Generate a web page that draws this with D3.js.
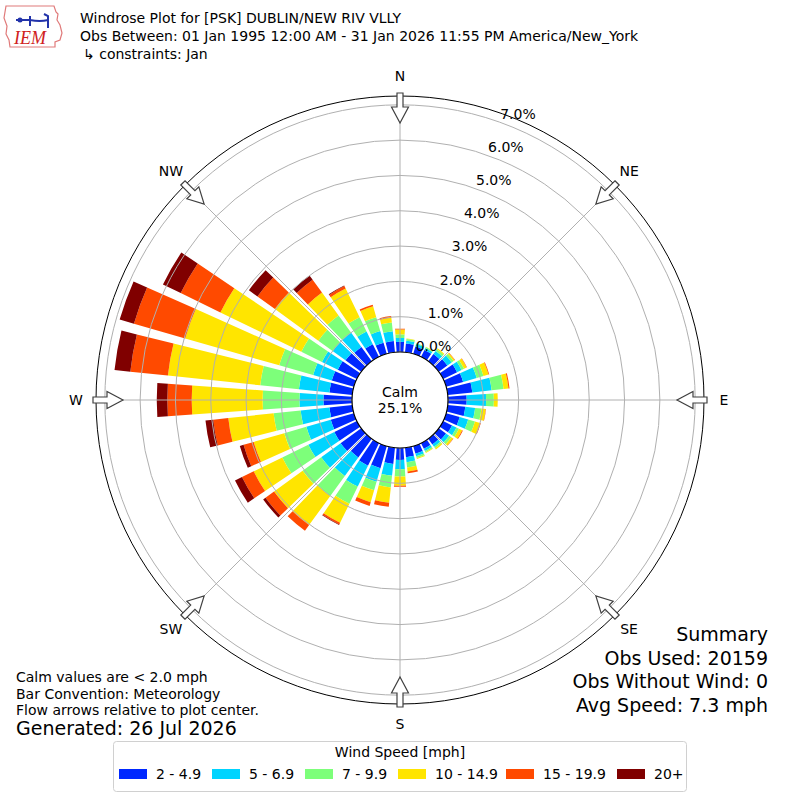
<!DOCTYPE html>
<html>
<head>
<meta charset="utf-8">
<script src="https://cdn.jsdelivr.net/npm/d3@7"></script>
<style>
  body { margin: 0; background: #fff; }
  text { font-family: "DejaVu Sans", sans-serif; fill: #000; }
</style>
</head>
<body>
<svg id="chart" width="800" height="800"></svg>
<script>
// direction bins (deg, meteorological) and percent of obs per speed bin
const directions = [0, 10, 20, 30, 40, 50, 60, 70, 80, 90, 100, 110,
  120, 130, 140, 150, 160, 170, 180, 190, 200, 210, 220, 230,
  240, 250, 260, 270, 280, 290, 300, 310, 320, 330, 340, 350];

const speedBins = ['2 - 4.9', '5 - 6.9', '7 - 9.9', '10 - 14.9', '15 - 19.9', '20+'];
const binColors = ['#0028ff', '#00d4ff', '#7dff7a', '#ffe500', '#ff4a00', '#800000'];

const pct2to5 = [0.29, 0.25, 0.22, 0.22, 0.25, 0.30, 0.44, 0.50, 0.70, 0.53, 0.50, 0.40,
  0.28, 0.25, 0.20, 0.18, 0.22, 0.27, 0.34, 0.46, 0.65, 0.71, 0.65, 0.72,
  0.71, 0.68, 0.65, 0.81, 0.65, 0.65, 0.60, 0.55, 0.50, 0.40, 0.33, 0.32];
const pct5to7 = [0.11, 0.08, 0.07, 0.06, 0.11, 0.15, 0.14, 0.40, 0.55, 0.55, 0.28, 0.25,
  0.14, 0.11, 0.08, 0.07, 0.08, 0.14, 0.26, 0.34, 0.40, 0.66, 0.65, 0.68,
  0.82, 0.72, 0.82, 0.68, 0.87, 0.55, 0.50, 0.45, 0.50, 0.40, 0.34, 0.28];
const pct7to10 = [0.10, 0.05, 0.02, 0.03, 0.06, 0.07, 0.08, 0.20, 0.34, 0.22, 0.18, 0.20,
  0.08, 0.08, 0.05, 0.04, 0.05, 0.15, 0.21, 0.33, 0.25, 0.54, 0.70, 0.65,
  0.82, 0.65, 0.77, 1.04, 1.10, 1.00, 0.65, 0.50, 0.60, 0.45, 0.41, 0.25];
const pct10to15 = [0.14, 0.01, 0.00, 0.01, 0.03, 0.04, 0.08, 0.15, 0.14, 0.11, 0.12, 0.15,
  0.10, 0.06, 0.04, 0.02, 0.03, 0.12, 0.26, 0.44, 0.35, 0.60, 1.02, 1.00,
  0.90, 0.90, 1.29, 2.01, 2.63, 2.77, 2.55, 1.52, 0.80, 0.90, 0.32, 0.13];
const pct15to20 = [0.02, 0.00, 0.00, 0.00, 0.00, 0.01, 0.01, 0.02, 0.03, 0.00, 0.01, 0.02,
  0.02, 0.01, 0.00, 0.00, 0.00, 0.05, 0.03, 0.11, 0.11, 0.05, 0.20, 0.30,
  0.37, 0.30, 0.43, 0.69, 1.07, 1.51, 1.25, 0.61, 0.45, 0.08, 0.05, 0.05];
const pct20up = [0.00, 0.00, 0.00, 0.00, 0.00, 0.00, 0.00, 0.00, 0.00, 0.00, 0.00, 0.00,
  0.00, 0.00, 0.00, 0.00, 0.00, 0.00, 0.00, 0.00, 0.00, 0.02, 0.00, 0.08,
  0.22, 0.11, 0.22, 0.30, 0.45, 0.42, 0.56, 0.30, 0.15, 0.02, 0.00, 0.00];

const ringTicks = [0, 1, 2, 3, 4, 5, 6, 7];
const compassLabels = ['N', 'NE', 'E', 'SE', 'S', 'SW', 'W', 'NW'];
const compassAngles = [0, 45, 90, 135, 180, 225, 270, 315];
const calmPct = 25.1;

const titleLines = [
  'Windrose Plot for [PSK] DUBLIN/NEW RIV VLLY',
  'Obs Between: 01 Jan 1995 12:00 AM - 31 Jan 2026 11:55 PM America/New_York',
  '\u21b3 constraints: Jan'
];
const noteLines = ['Calm values are < 2.0 mph', 'Bar Convention: Meteorology', 'Flow arrows relative to plot center.'];
const summaryLines = ['Summary', 'Obs Used: 20159', 'Obs Without Wind: 0', 'Avg Speed: 7.3 mph'];

const cx = 400, cy = 400;
const svg = d3.select('#chart');

// scales
const r = d3.scaleLinear().domain([0, 7.25]).range([48, 304]);
const ang = d3.scaleLinear().domain([0, 360]).range([0, 2 * Math.PI]);
const binHalf = 4; // deg, bars are 80% of the 10 deg sector

const keys = ['b0', 'b1', 'b2', 'b3', 'b4', 'b5'];
const rows = directions.map((d, i) => ({
  dir: d, b0: pct2to5[i], b1: pct5to7[i], b2: pct7to10[i],
  b3: pct10to15[i], b4: pct15to20[i], b5: pct20up[i]
}));
const series = d3.stack().keys(keys)(rows);

const g = svg.append('g').attr('transform', 'translate(' + cx + ',' + cy + ')');

const arc = d3.arc()
  .innerRadius(d => r(d[0]))
  .outerRadius(d => r(d[1]))
  .startAngle(d => ang(d.data.dir - binHalf))
  .endAngle(d => ang(d.data.dir + binHalf));

g.selectAll('.layer')
  .data(series)
  .enter().append('g')
  .attr('class', 'layer')
  .attr('fill', (s, i) => binColors[i])
  .selectAll('path')
  .data(s => s.filter(d => d[1] - d[0] > 0))
  .enter().append('path')
  .attr('d', arc);

// grid rings
g.selectAll('.ring')
  .data(ringTicks)
  .enter().append('circle')
  .attr('r', d => r(d))
  .attr('fill', 'none')
  .attr('stroke', '#b0b0b0')
  .attr('stroke-width', 1);

// radial grid lines
g.selectAll('.spoke')
  .data(compassAngles)
  .enter().append('line')
  .attr('x1', 0).attr('y1', 0)
  .attr('x2', d => r(7.25) * Math.sin(ang(d)))
  .attr('y2', d => -r(7.25) * Math.cos(ang(d)))
  .attr('stroke', '#b0b0b0')
  .attr('stroke-width', 1);

// outer spine
g.append('circle')
  .attr('r', r(7.25))
  .attr('fill', 'none')
  .attr('stroke', '#000')
  .attr('stroke-width', 1);

// ring labels
const labAng = ang(20);
g.selectAll('.rlab')
  .data(ringTicks)
  .enter().append('text')
  .attr('x', d => r(d) * Math.sin(labAng) + 17)
  .attr('y', d => -r(d) * Math.cos(labAng) - 9)
  .attr('text-anchor', 'middle')
  .attr('dominant-baseline', 'central')
  .style('font-size', '14px')
  .text(d => d.toFixed(1) + '%');

// compass labels
g.selectAll('.clab')
  .data(compassLabels)
  .enter().append('text')
  .attr('x', (d, i) => 324 * Math.sin(ang(compassAngles[i])))
  .attr('y', (d, i) => -324 * Math.cos(ang(compassAngles[i])))
  .attr('text-anchor', 'middle')
  .attr('dominant-baseline', 'central')
  .style('font-size', '14px')
  .text(d => d);

// flow arrows (pointing to center)
const ro = r(7.25);
g.selectAll('.arrow')
  .data(compassAngles)
  .enter().append('path')
  .attr('transform', d => 'rotate(' + d + ')')
  .attr('d', 'M-3,' + (-ro - 3) + 'L3,' + (-ro - 3) + 'L3,' + (-ro + 11) +
    'L8.5,' + (-ro + 11) + 'L0,' + (-ro + 27) + 'L-8.5,' + (-ro + 11) +
    'L-3,' + (-ro + 11) + 'Z')
  .attr('fill', '#fff')
  .attr('stroke', '#404040')
  .attr('stroke-width', 1.2);

// calm circle
g.append('circle')
  .attr('r', r(0))
  .attr('fill', '#fff')
  .attr('stroke', '#000')
  .attr('stroke-width', 1.2);
g.append('text').attr('x', 0).attr('y', -8).attr('text-anchor', 'middle')
  .attr('dominant-baseline', 'central').style('font-size', '14px').text('Calm');
g.append('text').attr('x', 0).attr('y', 8).attr('text-anchor', 'middle')
  .attr('dominant-baseline', 'central').style('font-size', '14px').text(calmPct.toFixed(1) + '%');

// title
svg.selectAll('.title')
  .data(titleLines)
  .enter().append('text')
  .attr('x', (d, i) => i === 2 ? 83 : 80)
  .attr('y', (d, i) => 23 + i * 18)
  .style('font-size', '14px')
  .text(d => d);

// logo
const logo = svg.append('g');
logo.append('path')
  .attr('d', 'M6,6 L54,6 L56,12 L58,14 L57,20 L60,25 L62,33 L60,40 L55,42 L55,47 L10,47 L9,40 L6,34 L7,26 L4,18 Z')
  .attr('fill', 'none').attr('stroke', '#e07a7a').attr('stroke-width', 1.2);
logo.append('path')
  .attr('d', 'M16,20 L30,20 M30,16 L30,26 M30,20 Q40,22 48,20 M44,14 L48,16 L48,28')
  .attr('fill', 'none').attr('stroke', '#2233aa').attr('stroke-width', 2);
logo.append('circle').attr('cx', 20).attr('cy', 20).attr('r', 2.5).attr('fill', '#2233aa');
logo.append('text').attr('x', 14).attr('y', 44)
  .style('font-family', '"Liberation Serif", serif').style('font-style', 'italic')
  .style('font-size', '18px').style('fill', '#d02020').text('IEM');

// notes
svg.selectAll('.note')
  .data(noteLines)
  .enter().append('text')
  .attr('x', 16)
  .attr('y', (d, i) => 682 + i * 16.5)
  .style('font-size', '14px')
  .text(d => d);
svg.append('text').attr('x', 16).attr('y', 735).style('font-size', '19px').text('Generated: 26 Jul 2026');

// summary
svg.selectAll('.summ')
  .data(summaryLines)
  .enter().append('text')
  .attr('x', 768)
  .attr('y', (d, i) => 641 + i * 23.5)
  .attr('text-anchor', 'end')
  .style('font-size', '19px')
  .text(d => d);

// legend
const leg = svg.append('g');
leg.append('rect').attr('x', 113.5).attr('y', 741.5).attr('width', 573).attr('height', 50)
  .attr('rx', 3).attr('fill', '#fff').attr('stroke', '#d0d0d0');
leg.append('text').attr('x', 400).attr('y', 757).attr('text-anchor', 'middle')
  .style('font-size', '14px').text('Wind Speed [mph]');
const legX = [119, 212, 305, 398, 506, 617];
const item = leg.selectAll('.item')
  .data(speedBins)
  .enter().append('g')
  .attr('transform', (d, i) => 'translate(' + legX[i] + ',769)');
item.append('rect').attr('width', 28).attr('height', 10).attr('fill', (d, i) => binColors[i]);
item.append('text').attr('x', 37).attr('y', 10).style('font-size', '14px').text(d => d);
</script>
</body>
</html>
